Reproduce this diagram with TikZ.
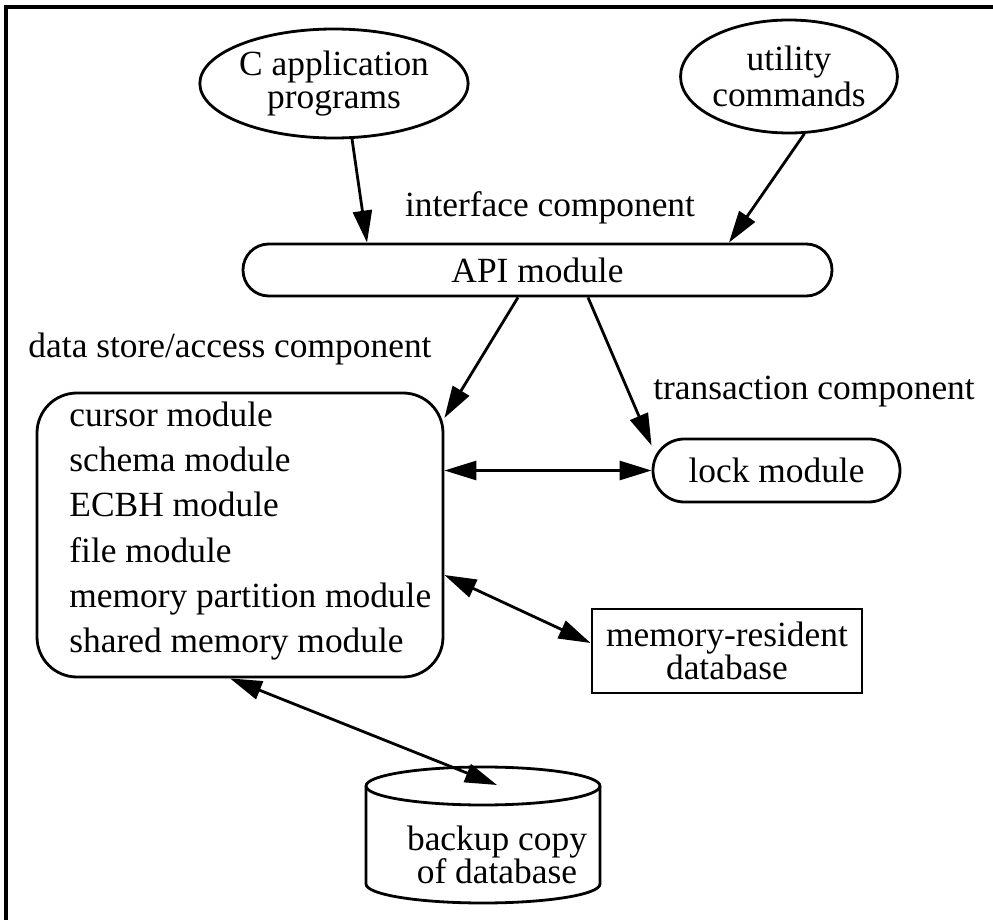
\documentclass[tikz,border=0pt]{standalone}
\usepackage{fontspec}
\setmainfont{Liberation Serif}
\usetikzlibrary{shapes.geometric,arrows.meta}
\newcommand\lblfont{\fontsize{17.7}{16.5}\selectfont}

\begin{document}
\begin{tikzpicture}
	  [x=0.5pt,y=-0.5pt,line width=1.4pt,
	   every node/.style={font=\lblfont},
	   oval/.style={ellipse,draw,align=center,inner sep=0pt},
	   apibox/.style={draw,rounded corners=12.9pt,minimum height=26pt,minimum width=294.5pt},
	   lockbox/.style={draw,rounded corners=15.7pt,minimum height=31.5pt,minimum width=123.5pt},
	   modbox/.style={draw,rounded corners=20pt,minimum width=203pt,minimum height=142pt},
	   dbbox/.style={draw,align=center,inner sep=0pt,minimum width=135pt,minimum height=42pt},
	   arr/.style={-{Triangle[length=16pt,width=9.5pt]}},
	   dblarr/.style={{Triangle[length=16pt,width=9.5pt]}-{Triangle[length=16pt,width=9.5pt]}}]
	\useasboundingbox (0,0) rectangle (993,920);
	\draw[line width=2pt] (6,920) -- (6,7) -- (993,7);

	\node[oval,minimum width=116pt,minimum height=54.5pt] (capp) at (334,83.5) {C application\\programs};
	\node[oval,minimum width=89pt,minimum height=56.5pt,font=\fontsize{17.7}{18}\selectfont] (util) at (789,76.5) {utility\\commands};
	\node[anchor=base] (iface) at (550,217) {interface component};
	\node[apibox] (api) at (537.5,270) {API module};
	\node[anchor=base] (dsalbl) at (230,358) {data store/access component};
	\node[anchor=base] (trlbl) at (814,400) {transaction component};
	\node[modbox] (dsa) at (240,535) {};
	\node[anchor=west,align=left,inner sep=0pt,font=\fontsize{17.7}{22.6}\selectfont] (modlist) at (68,531)
	  {cursor module\\schema module\\ECBH module\\file module\\memory partition module\\shared memory module};
	\node[lockbox] (lock) at (776.5,470.5) {lock module};
	\node[dbbox] (memdb) at (727,651) {memory-resident\\database};

	% backup copy of the database
	\draw (366,786) -- (366,884) arc[start angle=180,end angle=360,x radius=58.5pt,y radius=9.5pt] -- (600,786);
	\draw (483,786) ellipse[x radius=58.5pt,y radius=9.5pt];
	\node[align=center] (backup) at (497,855) {backup copy\\of database};
	\coordinate (bktop) at (497,785);

	\draw[arr] (capp.288) -- ([xshift=-85.25pt]api.north);
	\draw[arr] (util.285) -- ([xshift=95.75pt]api.north);
	\draw[arr] ([xshift=-9.75pt]api.south) -- ([yshift=58.5pt]dsa.east);
	\draw[arr] ([xshift=25.25pt]api.south) -- ([yshift=-4pt]lock.north west);
	\draw[dblarr] (lock.west -| dsa.east) -- (lock.west);
	\draw[dblarr] ([yshift=-20pt]dsa.east) -- ([yshift=4pt]memdb.west);
	\draw[dblarr] ([xshift=-5pt]dsa.south) -- (bktop);
\end{tikzpicture}
\end{document}
